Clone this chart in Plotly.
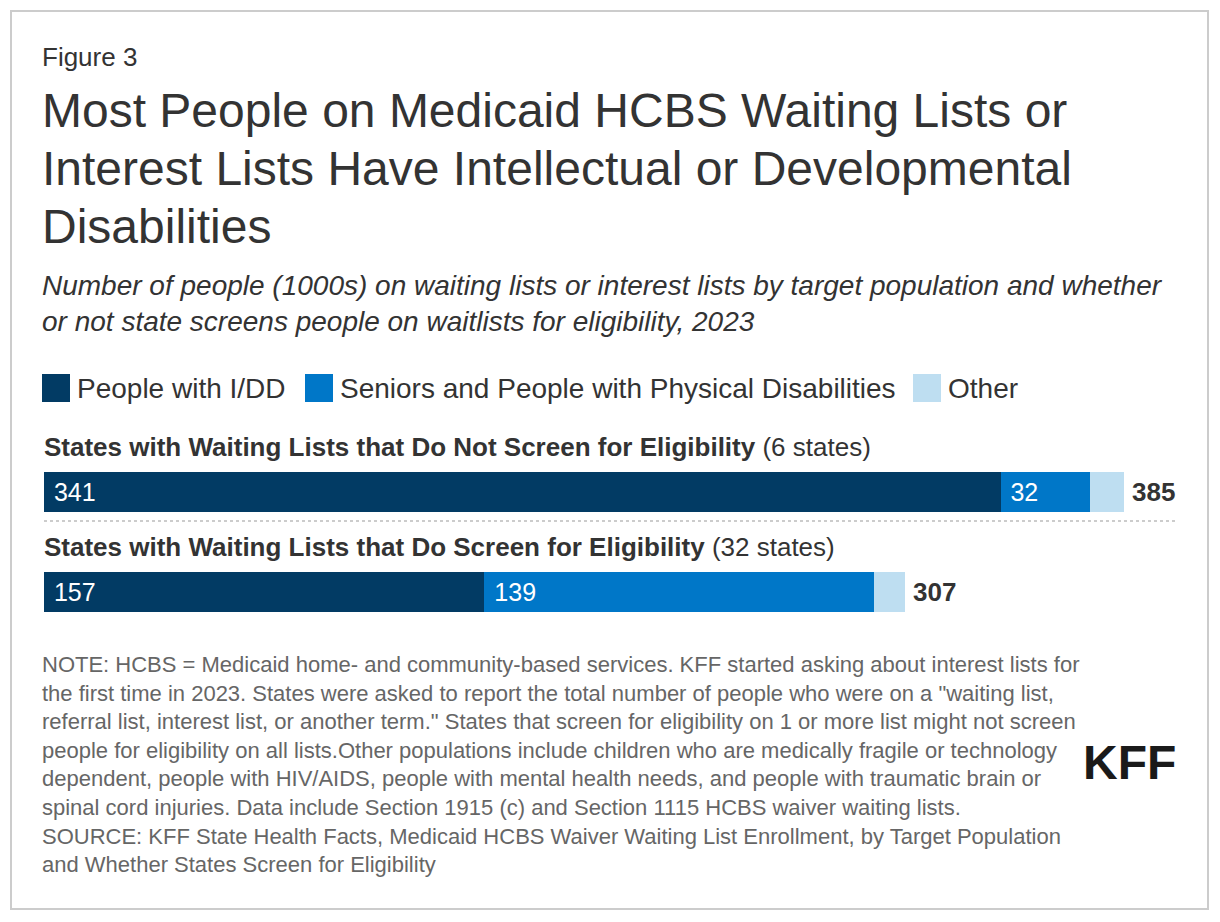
import plotly.graph_objects as go

# ---------------- data ----------------
categories = [
    "States with Waiting Lists that Do Not Screen for Eligibility",
    "States with Waiting Lists that Do Screen for Eligibility",
]
state_counts = ["(6 states)", "(32 states)"]
series_names = ["People with I/DD", "Seniors and People with Physical Disabilities", "Other"]
idd = [341, 157]
seniors_pd = [32, 139]
other = [12, 11]
totals = [385, 307]
series_colors = ["#023b64", "#0077c8", "#bedef1"]
show_value = [True, True, False]

figure_label = "Figure 3"
title_lines = [
    "Most People on Medicaid HCBS Waiting Lists or",
    "Interest Lists Have Intellectual or Developmental",
    "Disabilities",
]
subtitle = ("Number of people (1000s) on waiting lists or interest lists by target population and whether<br>"
            "or not state screens people on waitlists for eligibility, 2023")
note = (
    "NOTE: HCBS = Medicaid home- and community-based services. KFF started asking about interest lists for<br>"
    "the first time in 2023. States were asked to report the total number of people who were on a \"waiting list,<br>"
    "referral list, interest list, or another term.\" States that screen for eligibility on 1 or more list might not screen<br>"
    "people for eligibility on all lists.Other populations include children who are medically fragile or technology<br>"
    "dependent, people with HIV/AIDS, people with mental health needs, and people with traumatic brain or<br>"
    "spinal cord injuries. Data include Section 1915 (c) and Section 1115 HCBS waiver waiting lists.<br>"
    "SOURCE: KFF State Health Facts, Medicaid HCBS Waiver Waiting List Enrollment, by Target Population<br>"
    "and Whether States Screen for Eligibility"
)

# ---------------- layout helpers ----------------
FONT = "Arial, Liberation Sans, Helvetica, sans-serif"
OFF = 8  # page body margin
W, H = 1212, 914
ML, MR, MT, MB = 36, 54, 434, 280
PW = W - ML - MR
PH = H - MT - MB


def px(x):
    # screen pixel -> paper coordinate
    return (x - OFF - ML) / PW


def py(y):
    return (H - MB - (y - OFF)) / PH


fig = go.Figure()
series_values = [idd, seniors_pd, other]
for name, vals, color, show in zip(series_names, series_values, series_colors, show_value):
    fig.add_trace(go.Bar(
        y=categories, x=vals, orientation="h", name=name,
        marker=dict(color=color, line=dict(width=0)),
        texttemplate="\u00a0%{x}" if show else None,
        textposition="inside" if show else "none",
        insidetextanchor="start",
        textfont=dict(color="white", size=25, family=FONT),
        constraintext="none",
        showlegend=False, hoverinfo="skip",
    ))

annotations = []


def ann(text, x, y, size, color="#333333", xanchor="left", yanchor="middle", **kw):
    d = dict(text=text, x=px(x), y=py(y), xref="paper", yref="paper", showarrow=False,
             xanchor=xanchor, yanchor=yanchor, align="left",
             font=dict(size=size, color=color, family=FONT))
    d.update(kw)
    annotations.append(d)


ann(figure_label, 40, 57, 26)
for i, line in enumerate(title_lines):
    ann(line, 40, 110 + 58 * i, 48)
ann("<i>" + subtitle + "</i>", 40, 303, 28)

# manual legend (large square swatches)
legend_x = [42, 305, 913]
shapes = []
for name, color, lx in zip(series_names, series_colors, legend_x):
    shapes.append(dict(type="rect", xref="paper", yref="paper",
                       x0=px(lx), x1=px(lx + 28), y0=py(402), y1=py(374),
                       fillcolor=color, line=dict(width=0)))
    ann(name, lx + 33, 388, 28)

# group labels above bars
for cat, cnt in zip(categories, state_counts):
    annotations.append(dict(text="<b>" + cat + "</b> " + cnt, x=0, y=cat, xref="x", yref="y",
                            showarrow=False, xanchor="left", yanchor="middle", yshift=45, xshift=-2,
                            font=dict(size=26, color="#333333", family=FONT)))

# totals
for cat, tot in zip(categories, totals):
    annotations.append(dict(text="<b>" + str(tot) + "</b>", x=tot, y=cat, xref="x", yref="y",
                            showarrow=False, xanchor="left", yanchor="middle", xshift=6,
                            font=dict(size=26, color="#333333", family=FONT)))

ann(note, 40, 764, 22, color="#666666")
ann("<b>KFF</b>", 1178, 762, 48, color="#1a1a1a", xanchor="right")

# dotted separator
shapes.append(dict(type="line", xref="paper", yref="paper", x0=px(44), x1=px(1176),
                   y0=py(521), y1=py(521), line=dict(color="#cccccc", width=2, dash="dot")))
# outer border
shapes.append(dict(type="rect", xref="paper", yref="paper", x0=px(11), x1=px(1208),
                   y0=py(909), y1=py(11), line=dict(color="#cccccc", width=2), fillcolor="rgba(0,0,0,0)"))

fig.update_layout(
    width=W, height=H,
    margin=dict(l=ML, r=MR, t=MT, b=MB),
    paper_bgcolor="white", plot_bgcolor="white",
    barmode="stack", bargap=0.6,
    showlegend=False,
    xaxis=dict(range=[0, 400], visible=False, fixedrange=True),
    yaxis=dict(type="category", range=[1.5, -0.5], visible=False, fixedrange=True),
    annotations=annotations, shapes=shapes,
    font=dict(family=FONT, color="#333333"),
    hovermode=False,
)

fig.write_html("out.html", config={"displayModeBar": False})
